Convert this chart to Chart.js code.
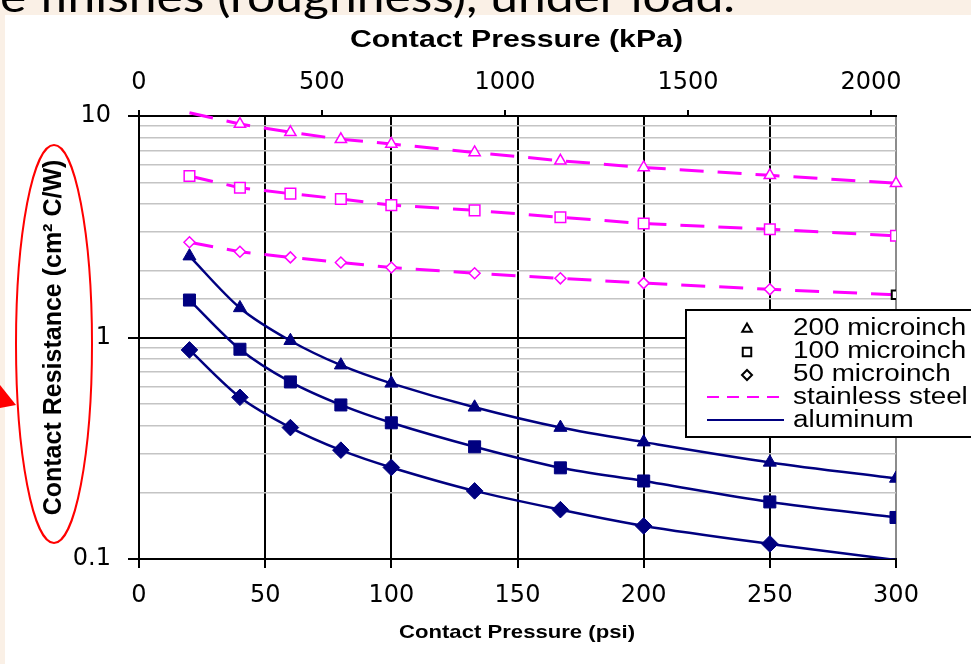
<!DOCTYPE html>
<html>
<head>
<meta charset="utf-8">
<script src="https://cdn.jsdelivr.net/npm/chart.js@4"></script>
<style>
  body { margin: 0; background: #faf0e6; }
  #contenedor { width: 971px; height: 664px; }
</style>
</head>
<body>
<div id="contenedor"><canvas id="grafico" width="971" height="664"></canvas></div>
<script>
// datos
const presionPsi = [20, 40, 60, 80, 100, 133, 167, 200, 250, 300];
const acero200 = [10.35, 9.2, 8.44, 7.85, 7.48, 6.85, 6.28, 5.86, 5.40, 4.97];
const acero100 = [5.36, 4.74, 4.46, 4.22, 3.96, 3.75, 3.49, 3.27, 3.08, 2.88];
const acero50 = [2.69, 2.44, 2.30, 2.18, 2.07, 1.95, 1.85, 1.76, 1.65, 1.56];
const aluminio200 = [2.33, 1.36, 0.967, 0.75, 0.621, 0.484, 0.392, 0.337, 0.273, 0.231];
const aluminio100 = [1.476, 0.885, 0.63, 0.496, 0.412, 0.321, 0.258, 0.225, 0.181, 0.154];
const aluminio50 = [0.879, 0.537, 0.392, 0.31, 0.259, 0.203, 0.167, 0.141, 0.117, 0.099];
const ticksPsi = [0, 50, 100, 150, 200, 250, 300];
const ticksKpa = [0, 500, 1000, 1500, 2000];
const ticksResistencia = [0.1, 1, 10];
const KPA_POR_PSI = 6.894757;

const MAGENTA = '#ff00ff';
const AZUL = '#000080';
const fuenteTicks = { family: 'DejaVu Sans', size: 24 };

function puntos(valores) {
  return presionPsi.map((x, i) => ({ x: x, y: valores[i] }));
}

function repetir(valor, n) {
  return Array(n).fill(valor);
}

function esMayor(v) {
  return ticksResistencia.some(t => Math.abs(t - v) < 1e-9);
}

function acero(label, valores, estilo, radio) {
  return {
    label: label,
    data: puntos(valores),
    borderColor: MAGENTA,
    borderWidth: 3,
    borderDash: [24, 14],
    tension: 0,
    pointStyle: estilo,
    pointRadius: radio,
    pointBorderColor: MAGENTA,
    pointBackgroundColor: '#fff',
    pointBorderWidth: 1.5
  };
}

function aluminio(label, valores, estilo, radio) {
  return {
    label: label,
    data: puntos(valores),
    borderColor: AZUL,
    borderWidth: 2.5,
    tension: 0.3,
    pointStyle: estilo,
    pointRadius: radio,
    pointBorderColor: AZUL,
    pointBackgroundColor: AZUL,
    pointBorderWidth: 1
  };
}

const serieAcero200 = acero('stainless 200', acero200, 'triangle', [0].concat(repetir(6.5, 9)));
serieAcero200.clip = false;
const serieAcero50 = acero('stainless 50', acero50, repetir('rectRot', 9).concat(['rect']), repetir(5.5, 9).concat([6]));
serieAcero50.pointBorderColor = repetir(MAGENTA, 9).concat(['#000']);
serieAcero50.pointBorderWidth = repetir(1.5, 9).concat([2]);

const datasets = [
  serieAcero200,
  acero('stainless 100', acero100, 'rect', 7.5),
  serieAcero50,
  aluminio('aluminum 200', aluminio200, 'triangle', 7.5),
  aluminio('aluminum 100', aluminio100, 'rect', 8.5),
  aluminio('aluminum 50', aluminio50, 'rectRot', repetir(8.3, 9).concat([0]))
];

function textoEstirado(ctx, texto, cx, base, fuente, ancho) {
  ctx.font = fuente;
  const k = ancho / ctx.measureText(texto).width;
  ctx.save();
  ctx.translate(cx, base);
  ctx.scale(k, 1);
  ctx.textAlign = 'center';
  ctx.textBaseline = 'alphabetic';
  ctx.fillStyle = '#000';
  ctx.fillText(texto, 0, 0);
  ctx.restore();
}

const fondo = {
  id: 'fondo',
  beforeDraw(chart) {
    const ctx = chart.ctx;
    ctx.save();
    ctx.fillStyle = '#faf0e6';
    ctx.fillRect(0, 0, chart.width, chart.height);
    ctx.fillStyle = '#fff';
    ctx.fillRect(5, 15, chart.width - 5, chart.height - 15);
    ctx.restore();
  }
};

const leyenda = {
  id: 'leyenda',
  afterDatasetsDraw(chart) {
    const ctx = chart.ctx;
    ctx.save();
    ctx.fillStyle = '#fff';
    ctx.fillRect(686, 310, 300, 127);
    ctx.strokeStyle = '#000';
    ctx.lineWidth = 2;
    ctx.strokeRect(686, 310, 300, 127);

    const filas = [
      { texto: '200 microinch', y: 327, marca: 'triangle', r: 5.5 },
      { texto: '100 microinch', y: 350, marca: 'rect', r: 6 },
      { texto: '50 microinch', y: 373, marca: 'rectRot', r: 5 },
      { texto: 'stainless steel', y: 396, linea: MAGENTA, dash: [12, 8] },
      { texto: 'aluminum', y: 419, linea: AZUL, dash: [] }
    ];
    filas.forEach(f => {
      if (f.marca) {
        ctx.strokeStyle = '#000';
        ctx.fillStyle = '#fff';
        ctx.setLineDash([]);
        Chart.helpers.drawPoint(ctx, { pointStyle: f.marca, radius: f.r, borderWidth: 2, rotation: 0 }, 747, f.y + 2);
      } else {
        ctx.strokeStyle = f.linea;
        ctx.lineWidth = 2;
        ctx.setLineDash(f.dash);
        ctx.beginPath();
        ctx.moveTo(707, f.y + 1);
        ctx.lineTo(784, f.y + 1);
        ctx.stroke();
        ctx.setLineDash([]);
      }
      ctx.font = '23px "Liberation Sans"';
      ctx.save();
      ctx.translate(793, f.y + 8);
      ctx.scale(1.21, 1);
      ctx.fillStyle = '#000';
      ctx.textBaseline = 'alphabetic';
      ctx.fillText(f.texto, 0, 0);
      ctx.restore();
    });
    ctx.restore();
  }
};

const adornos = {
  id: 'adornos',
  afterDraw(chart) {
    const ctx = chart.ctx;
    textoEstirado(ctx, 'Contact Pressure (kPa)', 516.5, 46.5, 'bold 24px "Liberation Sans"', 333);
    textoEstirado(ctx, 'Contact Pressure (psi)', 517, 638, 'bold 18.5px "Liberation Sans"', 236);

    // texto de la diapositiva, cortado arriba
    ctx.save();
    ctx.font = '42px Lato';
    const w = ctx.measureText('e finishes (roughness), under load.').width;
    ctx.translate(0, 12);
    ctx.scale(735 / w, 1);
    ctx.fillStyle = '#000';
    ctx.textBaseline = 'alphabetic';
    ctx.fillText('e finishes (roughness), under load.', 0, 0);
    ctx.restore();

    // elipse roja y punta de flecha
    ctx.save();
    ctx.strokeStyle = '#ff0000';
    ctx.lineWidth = 2;
    ctx.beginPath();
    ctx.ellipse(54, 344, 38, 199, 0, 0, Math.PI * 2);
    ctx.stroke();
    ctx.fillStyle = '#ff0000';
    ctx.beginPath();
    ctx.moveTo(0, 385);
    ctx.lineTo(16, 405);
    ctx.lineTo(0, 408);
    ctx.closePath();
    ctx.fill();
    ctx.restore();
  }
};

new Chart(document.getElementById('grafico').getContext('2d'), {
  type: 'line',
  data: { datasets: datasets },
  options: {
    responsive: false,
    animation: false,
    layout: { padding: { left: 0, right: 75, top: 0, bottom: 0 } },
    plugins: { legend: { display: false }, tooltip: { enabled: false } },
    scales: {
      x: {
        type: 'linear',
        position: 'bottom',
        min: 0,
        max: 300,
        afterBuildTicks: s => { s.ticks = ticksPsi.map(v => ({ value: v })); },
        afterFit: s => { s.height = 105; },
        ticks: { font: fuenteTicks, color: '#000', padding: 13, callback: v => String(v) },
        grid: {
          color: c => (c.tick && c.tick.value === 300) ? '#8c8c8c' : '#000',
          lineWidth: 2,
          tickLength: 9,
          tickColor: '#000',
          tickWidth: 2
        },
        border: { color: '#000', width: 2 }
      },
      x2: {
        type: 'linear',
        position: 'top',
        min: 0,
        max: 300 * KPA_POR_PSI,
        afterBuildTicks: s => { s.ticks = ticksKpa.map(v => ({ value: v })); },
        afterFit: s => { s.height = 116; },
        ticks: { font: fuenteTicks, color: '#000', padding: 13, callback: v => String(v) },
        grid: { drawOnChartArea: false, color: '#000', lineWidth: 2, tickLength: 6 },
        border: { color: '#000', width: 2 }
      },
      y: {
        type: 'logarithmic',
        min: 0.1,
        max: 10,
        afterFit: s => { s.width = 139; },
        ticks: {
          autoSkip: false,
          font: fuenteTicks,
          color: '#000',
          padding: 17,
          callback: v => esMayor(v) ? String(v) : ''
        },
        grid: {
          color: c => esMayor(c.tick.value) ? '#000' : '#c4c4c4',
          lineWidth: c => esMayor(c.tick.value) ? 2 : 1.5,
          tickLength: 11,
          tickColor: c => esMayor(c.tick.value) ? '#000' : 'rgba(0,0,0,0)'
        },
        border: { color: '#000', width: 2 },
        title: {
          display: true,
          text: 'Contact Resistance (cm² C/W)',
          color: '#000',
          font: { family: 'Liberation Sans', size: 25, weight: 'bold' },
          padding: { top: 39, bottom: 0 }
        }
      }
    }
  },
  plugins: [fondo, leyenda, adornos]
});
</script>
</body>
</html>
